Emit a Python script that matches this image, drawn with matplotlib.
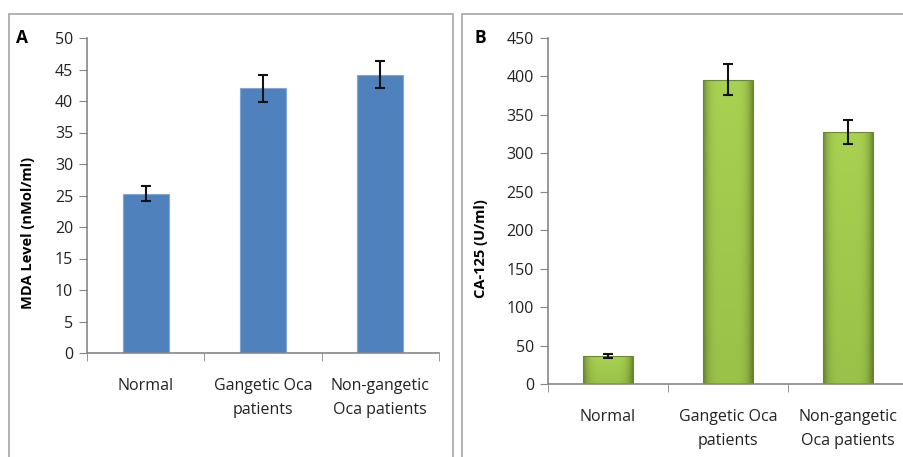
import numpy as np
import matplotlib.pyplot as plt
from matplotlib.patches import Rectangle

plt.rcParams['font.family'] = ['Open Sans', 'DejaVu Sans']

groups = ['Normal', 'Gangetic Oca\npatients', 'Non-gangetic\nOca patients']

# panel A: MDA level
mda_mean = [25.3, 42.0, 44.2]
mda_err = [1.25, 2.1, 2.2]

# panel B: CA-125
ca_mean = [36, 396, 328]
ca_err = [2.5, 20, 16]

W, H = 904, 457
fig = plt.figure(figsize=(W / 100, H / 100), dpi=100)


def px_axes(x0, y0, x1, y1):
    # axes placed by pixel box (top-left origin)
    return fig.add_axes([x0 / W, (H - y1) / H, (x1 - x0) / W, (y1 - y0) / H])


# panel frames
for x0, x1 in [(9, 453), (462, 930)]:
    fig.patches.append(Rectangle((x0 / W, -0.1), (x1 - x0) / W, (H - 14) / H + 0.1,
                                 transform=fig.transFigure, fill=False,
                                 edgecolor='#a6a6a6', linewidth=1.2))


def style_axes(ax, ymax, ystep):
    x = np.arange(len(groups)) + 0.5
    ax.set_xlim(0, 3)
    ax.set_ylim(0, ymax)
    ax.set_yticks(np.arange(0, ymax + 1, ystep))
    ax.set_xticks(x)
    ax.set_xticklabels(groups, fontsize=11.5, color='#222222', linespacing=1.65)
    ax.set_xticks([0, 1, 2, 3], minor=True)
    ax.tick_params(axis='x', which='major', length=0, pad=18)
    ax.tick_params(axis='x', which='minor', length=6, color='#868686', direction='out')
    ax.tick_params(axis='y', length=6, color='#868686', labelsize=11.5, labelcolor='#222222', pad=4)
    for s in ['top', 'right']:
        ax.spines[s].set_visible(False)
    for s in ['left', 'bottom']:
        ax.spines[s].set_color('#868686')
        ax.spines[s].set_linewidth(1.2)
    ax.patch.set_alpha(0)
    return x


# A
axA = px_axes(87, 38, 439, 353)
x = style_axes(axA, 50, 5)
axA.bar(x, mda_mean, width=0.39, color='#4f81bd', edgecolor='#7ea6d6', linewidth=0.8, zorder=2)
axA.errorbar(x, mda_mean, yerr=mda_err, fmt='none', ecolor='#111111',
             elinewidth=1.5, capsize=3.6, capthick=1.5, zorder=3)
axA.set_ylabel('MDA Level (nMol/ml)', fontsize=10.5, fontweight='bold')
axA.yaxis.set_label_coords(-0.148, 0.38)
fig.text(22 / W, 1 - 38 / H, 'A', fontsize=12.5, fontweight='bold', va='center', ha='center')

# B
axB = px_axes(548, 38, 908, 384)
x = style_axes(axB, 450, 50)
bars = axB.bar(x, ca_mean, width=0.41, color='#9bbb59', linewidth=0, zorder=2)

# bevelled green fill: darker at the sides and bottom, bright top edge
nx, ny = 60, 200
u = np.linspace(0, 1, nx)
v = np.linspace(0, 1, ny)[:, None]
side = 1 - 0.35 * np.abs(2 * u - 1) ** 5
light = np.array([0.66, 0.82, 0.32])
dark = np.array([0.50, 0.64, 0.22])
for b in bars:
    x0, w, h = b.get_x(), b.get_width(), b.get_height()
    vv = 1 - (1 - v) * 0.35  # 1 at the top
    col = dark + (light - dark) * vv[..., None]
    img = np.clip(col * side[None, :, None], 0, 1)
    im = axB.imshow(img, extent=[x0, x0 + w, 0, h], origin='lower', aspect='auto',
                    zorder=2.1, interpolation='bilinear')
    im.set_clip_path(b)
    axB.add_patch(Rectangle((x0, 0), w, h, fill=False, edgecolor='#6b8a2a',
                            linewidth=0.8, zorder=2.2))
axB.set_xlim(0, 3)
axB.set_ylim(0, 450)
axB.errorbar(x, ca_mean, yerr=ca_err, fmt='none', ecolor='#111111',
             elinewidth=1.5, capsize=3.6, capthick=1.5, zorder=3)
axB.set_ylabel('CA-125 (U/ml)', fontsize=10.5, fontweight='bold')
axB.yaxis.set_label_coords(-0.167, 0.39)
fig.text(480 / W, 1 - 38 / H, 'B', fontsize=12.5, fontweight='bold', va='center', ha='center')

fig.savefig('out.png', dpi=100)
